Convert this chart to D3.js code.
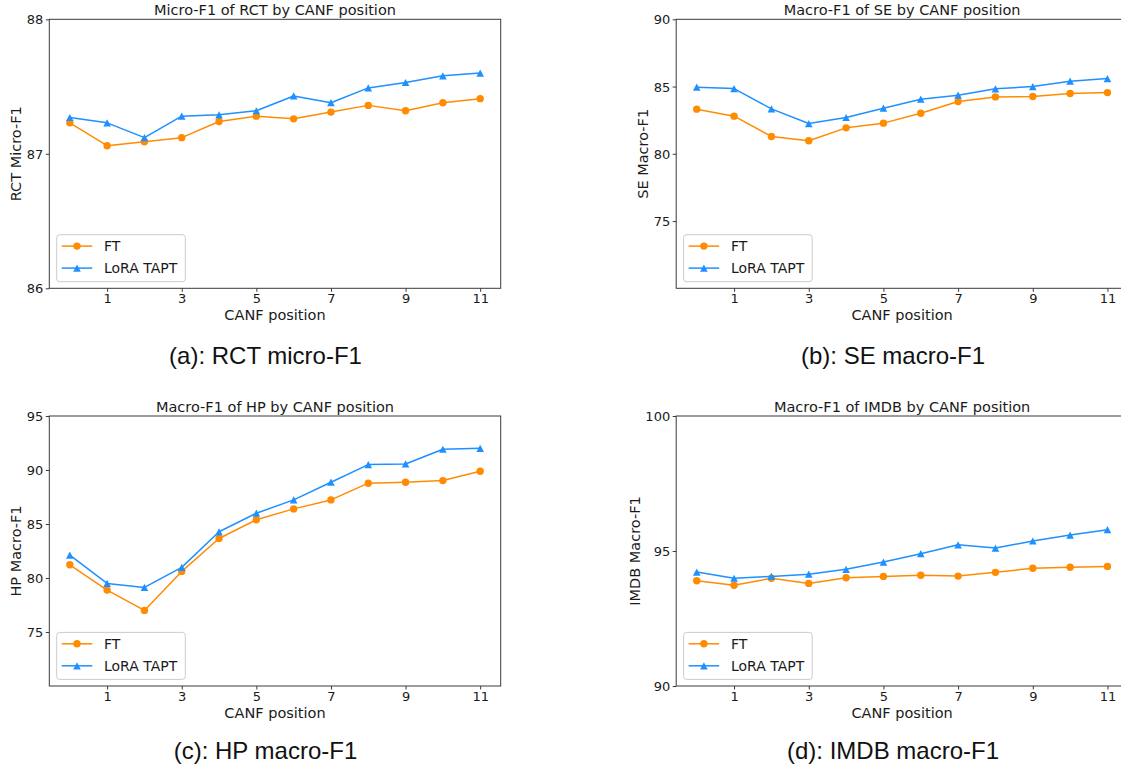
<!DOCTYPE html>
<html>
<head>
<meta charset="utf-8">
<script src="https://cdn.jsdelivr.net/npm/d3@7"></script>
<style>
  html, body { margin: 0; padding: 0; background: #fff; }
  svg { display: block; }
</style>
</head>
<body>
<svg id="chart" width="1121" height="769"></svg>
<script>
// ---------------- data ----------------
const positions = [0, 1, 2, 3, 4, 5, 6, 7, 8, 9, 10, 11];
const xTickValues = [1, 3, 5, 7, 9, 11];
const seriesNames = ["FT", "LoRA TAPT"];

const rctFT   = [87.23, 87.06, 87.09, 87.12, 87.24, 87.28, 87.26, 87.31, 87.36, 87.32, 87.38, 87.41];
const rctLoRA = [87.27, 87.23, 87.12, 87.28, 87.29, 87.32, 87.43, 87.38, 87.49, 87.53, 87.58, 87.60];

const seFT   = [83.32, 82.80, 81.29, 80.97, 81.93, 82.28, 83.02, 83.89, 84.23, 84.26, 84.48, 84.55];
const seLoRA = [84.95, 84.85, 83.34, 82.25, 82.70, 83.39, 84.06, 84.36, 84.83, 85.00, 85.40, 85.59];

const hpFT   = [81.22, 78.88, 77.00, 80.61, 83.66, 85.39, 86.40, 87.23, 88.78, 88.87, 89.02, 89.88];
const hpLoRA = [82.12, 79.50, 79.13, 80.98, 84.28, 86.00, 87.23, 88.87, 90.50, 90.56, 91.92, 92.01];

const imdbFT   = [93.90, 93.73, 93.99, 93.80, 94.01, 94.06, 94.10, 94.07, 94.21, 94.36, 94.40, 94.43];
const imdbLoRA = [94.22, 93.99, 94.06, 94.14, 94.32, 94.59, 94.90, 95.23, 95.11, 95.37, 95.59, 95.79];

const rctTicks  = [86, 87, 88];
const seTicks   = [75, 80, 85, 90];
const hpTicks   = [75, 80, 85, 90, 95];
const imdbTicks = [90, 95, 100];

const rctRange  = [86, 88];
const seRange   = [70, 90];
const hpRange   = [70, 95];
const imdbRange = [90, 100];

const titles   = ["Micro-F1 of RCT by CANF position", "Macro-F1 of SE by CANF position",
                  "Macro-F1 of HP by CANF position", "Macro-F1 of IMDB by CANF position"];
const yLabels  = ["RCT Micro-F1", "SE Macro-F1", "HP Macro-F1", "IMDB Macro-F1"];
const captions = ["(a): RCT micro-F1", "(b): SE macro-F1", "(c): HP macro-F1", "(d): IMDB macro-F1"];
const xLabel = "CANF position";

// ---------------- layout ----------------
const colors = ["#ff8c00", "#1e90ff"];
const panels = [
  { ft: rctFT,  lora: rctLoRA,  ticks: rctTicks,  range: rctRange,  box: [49.3, 19.3, 500.7, 288.3], cap: [265.5, 363.5] },
  { ft: seFT,   lora: seLoRA,   ticks: seTicks,   range: seRange,   box: [676.2, 19.3, 1128, 288.3], cap: [893, 363.5] },
  { ft: hpFT,   lora: hpLoRA,   ticks: hpTicks,   range: hpRange,   box: [49.3, 416, 500.7, 686], cap: [265.5, 759.3] },
  { ft: imdbFT, lora: imdbLoRA, ticks: imdbTicks, range: imdbRange, box: [676.2, 416, 1128, 686], cap: [893, 759.3] }
];

const svg = d3.select("#chart");
const FONT = "DejaVu Sans, sans-serif";
const TXT = "#1a1a1a";
const AXC = "#3a3a3a";

function markerPath(i) {
  if (i === 0) return d3.symbol().type(d3.symbolCircle).size(Math.PI * 3.7 * 3.7)();
  const w = 7.6, h = 7.2;
  return `M0,${-h / 2}L${w / 2},${h / 2}L${-w / 2},${h / 2}Z`;
}

panels.forEach((p, idx) => {
  const [x0, y0, x1, y1] = p.box;
  const x = d3.scaleLinear().domain([-0.55, 11.55]).range([x0, x1]);
  const y = d3.scaleLinear().domain(p.range).range([y1, y0]);
  const g = svg.append("g");

  // series
  [p.ft, p.lora].forEach((vals, si) => {
    const line = d3.line().x((d, i) => x(positions[i])).y(d => y(d));
    g.append("path").datum(vals)
      .attr("d", line).attr("fill", "none")
      .attr("stroke", colors[si]).attr("stroke-width", 1.5)
      .attr("stroke-linejoin", "round");
    g.selectAll(null).data(vals).enter().append("path")
      .attr("d", markerPath(si))
      .attr("transform", (d, i) => `translate(${x(positions[i])},${y(d)})`)
      .attr("fill", colors[si]);
  });

  // axes
  const xAxis = d3.axisBottom(x).tickValues(xTickValues).tickSize(3.5).tickPadding(3).tickFormat(d3.format("d"));
  const yAxis = d3.axisLeft(y).tickValues(p.ticks).tickSize(3.5).tickPadding(2.5).tickFormat(d3.format("d"));
  const gx = g.append("g").attr("transform", `translate(0,${y1})`).call(xAxis);
  const gy = g.append("g").attr("transform", `translate(${x0},0)`).call(yAxis);
  [gx, gy].forEach(a => {
    a.select(".domain").remove();
    a.selectAll("line").attr("stroke", AXC).attr("stroke-width", 1);
    a.selectAll("text").attr("font-family", FONT).attr("font-size", 13).attr("fill", TXT);
  });
  gx.selectAll("text").attr("dy", null).attr("y", 15);
  gy.selectAll("text").attr("dy", "0.36em");

  // spines
  g.append("rect").attr("x", x0).attr("y", y0).attr("width", x1 - x0).attr("height", y1 - y0)
    .attr("fill", "none").attr("stroke", AXC).attr("stroke-width", 1);

  // title
  g.append("text").attr("x", (x0 + x1) / 2).attr("y", y0 - 4.3)
    .attr("text-anchor", "middle").attr("font-family", FONT).attr("font-size", 14.5)
    .attr("fill", TXT).text(titles[idx]);

  // x label
  g.append("text").attr("x", (x0 + x1) / 2).attr("y", y1 + 31.7)
    .attr("text-anchor", "middle").attr("font-family", FONT).attr("font-size", 14.5)
    .attr("fill", TXT).text(xLabel);

  // y label
  const maxLen = d3.max(p.ticks, t => String(t).length);
  const off = maxLen >= 3 ? 36.2 : 28.7;
  g.append("text")
    .attr("transform", `translate(${x0 - off},${(y0 + y1) / 2}) rotate(-90)`)
    .attr("text-anchor", "middle").attr("font-family", FONT).attr("font-size", 14.5)
    .attr("fill", TXT).text(yLabels[idx]);

  // legend
  const lx = x0 + 7.4, ly = y1 - 6.6 - 47;
  const lg = g.append("g").attr("transform", `translate(${lx},${ly})`);
  lg.append("rect").attr("width", 128.6).attr("height", 47).attr("rx", 3).attr("ry", 3)
    .attr("fill", "#fff").attr("fill-opacity", 0.8).attr("stroke", "#cccccc").attr("stroke-width", 1);
  seriesNames.forEach((name, si) => {
    const yy = 11.4 + si * 22;
    lg.append("line").attr("x1", 5).attr("x2", 35.6).attr("y1", yy).attr("y2", yy)
      .attr("stroke", colors[si]).attr("stroke-width", 1.5);
    lg.append("path").attr("d", markerPath(si)).attr("transform", `translate(20.3,${yy})`).attr("fill", colors[si]);
    lg.append("text").attr("x", 47.3).attr("y", yy).attr("dy", "0.36em")
      .attr("font-family", FONT).attr("font-size", 14).attr("fill", TXT).text(name);
  });

  // caption
  svg.append("text").attr("x", p.cap[0]).attr("y", p.cap[1])
    .attr("text-anchor", "middle").attr("font-family", "Liberation Sans, Arial, sans-serif")
    .attr("font-size", 24).attr("fill", "#111").text(captions[idx]);
});
</script>
</body>
</html>
